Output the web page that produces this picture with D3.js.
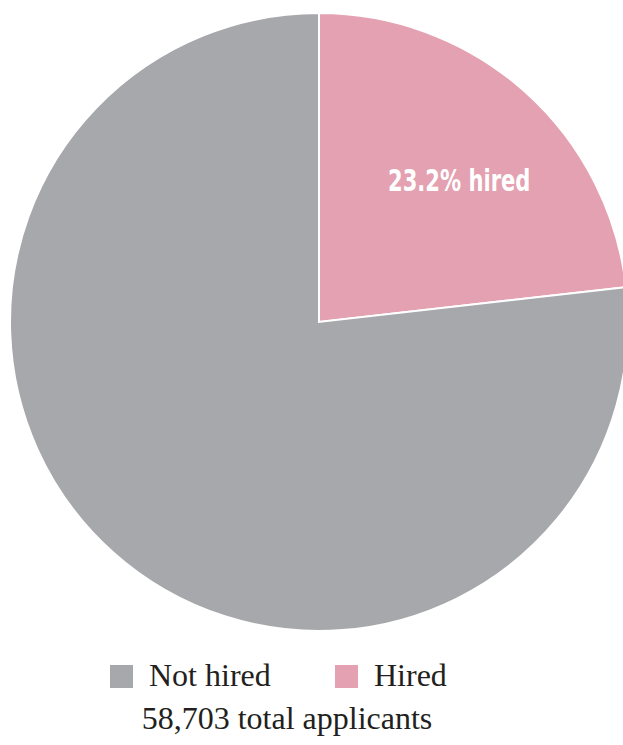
<!DOCTYPE html>
<html>
<head>
<meta charset="utf-8">
<script src="https://cdn.jsdelivr.net/npm/d3@7"></script>
<style>
  body { margin: 0; background: #fff; }
</style>
</head>
<body>
<div id="chart"></div>
<script>
// Data
const categories = ["Hired", "Not hired"];
const shares = [23.2, 76.8];
const colors = ["#E3A1B1", "#A7A8AC"];
const legendOrder = ["Not hired", "Hired"];
const totalApplicants = 58703;

const width = 623, height = 745;
const cx = 319, cy = 322, radius = 309;

const svg = d3.select("#chart")
  .append("svg")
  .attr("width", width)
  .attr("height", height);

const color = d3.scaleOrdinal().domain(categories).range(colors);

const pie = d3.pie().sort(null).value(d => d.value);
const arcs = pie(categories.map((c, i) => ({ name: c, value: shares[i] })));

const arc = d3.arc().innerRadius(0).outerRadius(radius);

const g = svg.append("g")
  .attr("transform", "translate(" + cx + "," + cy + ")");

g.selectAll("path")
  .data(arcs)
  .enter()
  .append("path")
  .attr("d", arc)
  .attr("fill", d => color(d.data.name))
  .attr("stroke", "#fff")
  .attr("stroke-width", 2);

// label inside the hired slice (condensed look via horizontal squeeze)
const labelArc = d3.arc().innerRadius(radius * 0.55).outerRadius(radius * 0.55);
const hired = arcs[0];
const lp = labelArc.centroid(hired);
g.append("text")
  .attr("transform", "translate(" + (lp[0] + 27) + "," + (lp[1] - 4) + ") scale(0.68,1)")
  .attr("text-anchor", "middle")
  .attr("fill", "#fff")
  .style("font-family", "'DejaVu Sans', sans-serif")
  .style("font-weight", "600")
  .style("font-size", "31px")
  .text(d3.format(".1f")(hired.data.value) + "% hired");

// Legend
const legend = svg.append("g");
const legendX = [110, 335];
legendOrder.forEach((name, i) => {
  legend.append("rect")
    .attr("x", legendX[i])
    .attr("y", 665)
    .attr("width", 23)
    .attr("height", 23)
    .attr("fill", color(name));
  legend.append("text")
    .attr("x", legendX[i] + 39)
    .attr("y", 686)
    .attr("fill", "#231f20")
    .style("font-family", "'Liberation Serif', 'DejaVu Serif', serif")
    .style("font-size", "32px")
    .text(name);
});

svg.append("text")
  .attr("x", 287)
  .attr("y", 729)
  .attr("text-anchor", "middle")
  .attr("fill", "#231f20")
  .style("font-family", "'Liberation Serif', 'DejaVu Serif', serif")
  .style("font-size", "32px")
  .text(d3.format(",")(totalApplicants) + " total applicants");
</script>
</body>
</html>
